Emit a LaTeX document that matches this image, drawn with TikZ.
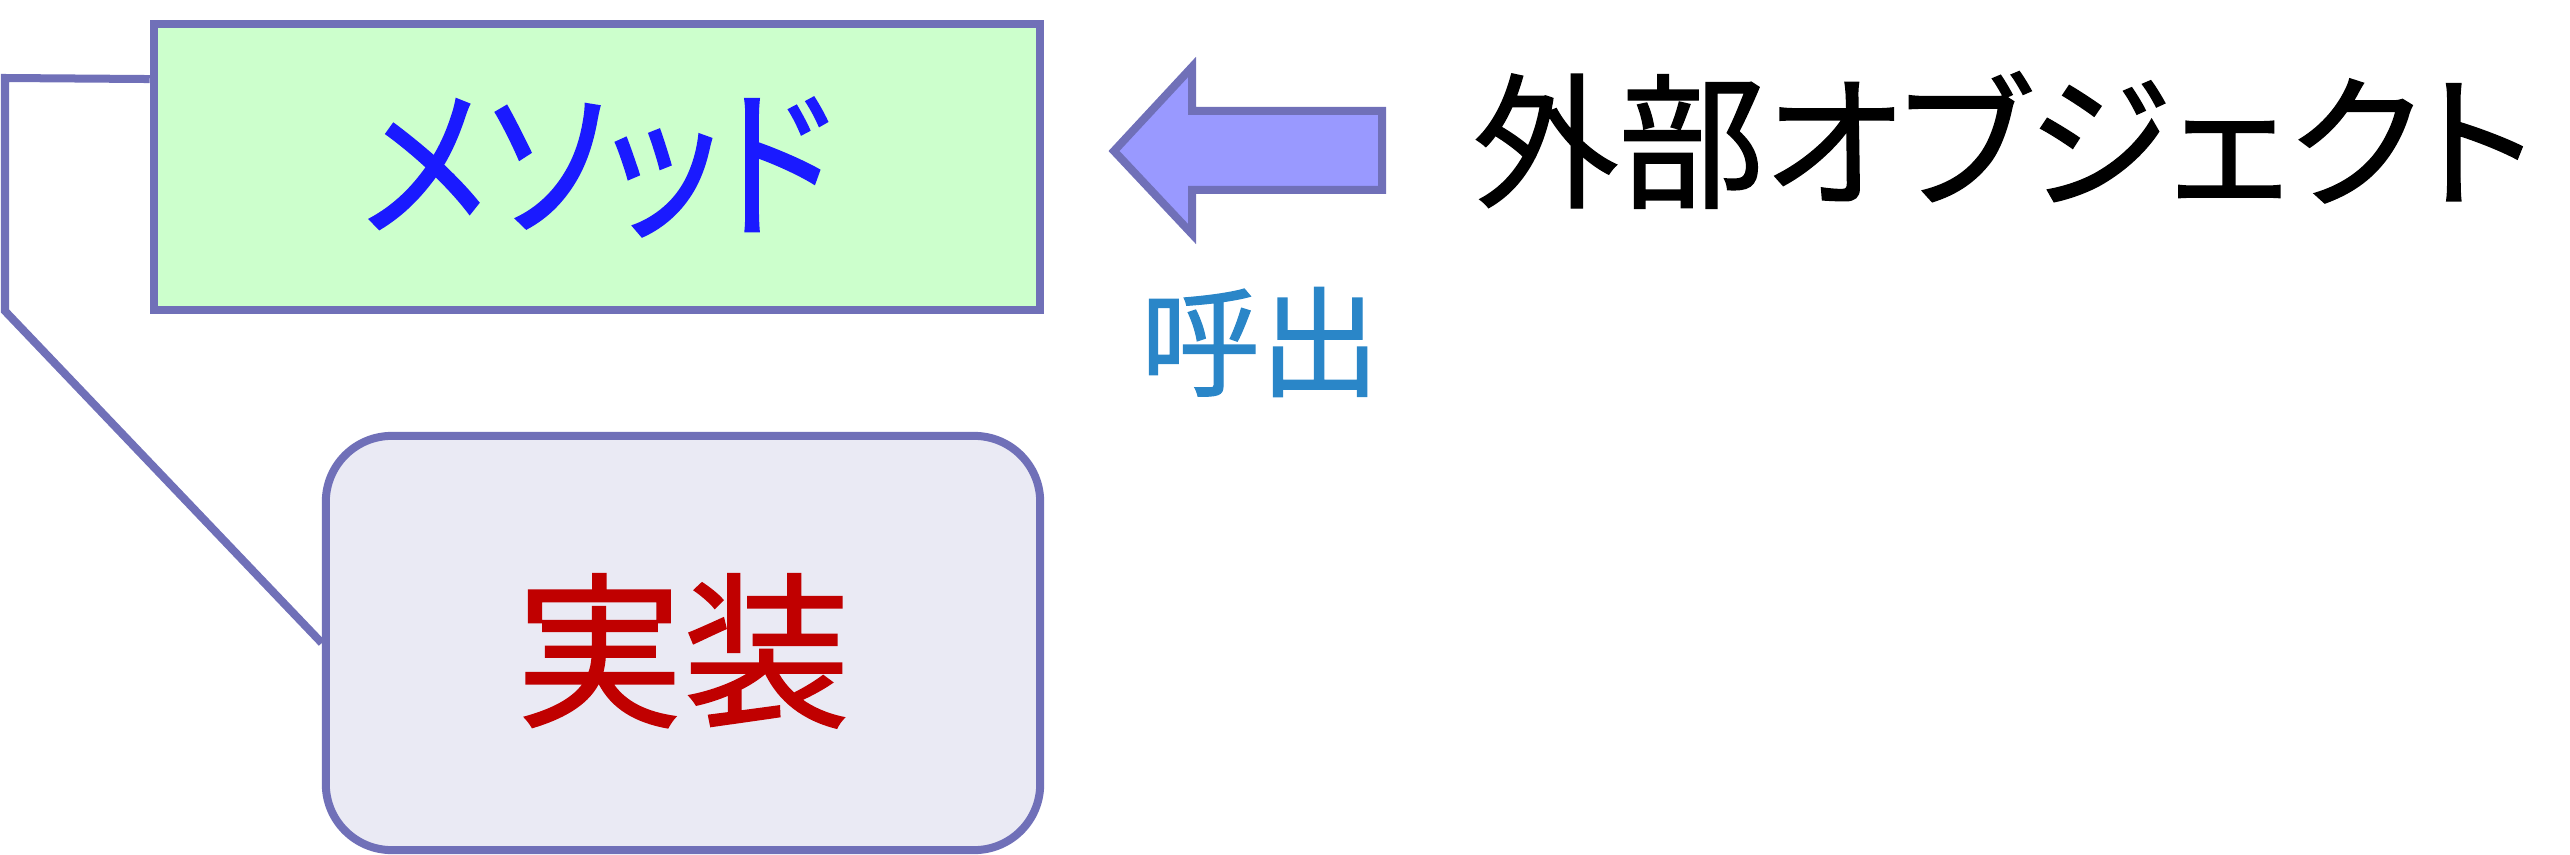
\documentclass[tikz,border=0pt]{standalone}
\usepackage{fontspec}
\newfontfamily\jpfont[RawFeature=+palt,FakeBold=1]{Noto Sans CJK JP}
\newfontfamily\jpnarrow[RawFeature=+palt,FakeBold=1,FakeStretch=0.87]{Noto Sans CJK JP}
\usetikzlibrary{positioning,calc}
\definecolor{boxline}{RGB}{112,112,184}
\definecolor{methodfill}{RGB}{204,255,204}
\definecolor{implfill}{RGB}{234,234,244}
\definecolor{arrowfill}{RGB}{153,153,255}
\definecolor{methodtext}{RGB}{26,26,255}
\definecolor{impltext}{RGB}{192,0,0}
\definecolor{calltext}{RGB}{42,134,200}

\begin{document}
\begin{tikzpicture}[
  x=0.01cm, y=-0.01cm,
  box options/.style = {draw=boxline,line width=0.08cm,inner sep=0pt},
  method box/.style = {box options,fill=methodfill,text=methodtext,
    minimum width=8.86cm,minimum height=2.85cm,
    font=\jpnarrow\fontsize{47}{47}\selectfont},
  impl box/.style = {box options,fill=implfill,text=impltext,rounded corners=0.66cm,
    minimum width=7.14cm,minimum height=4.14cm,text height=1.57cm,text depth=0.15cm,
    font=\jpfont\fontsize{47.5}{47.5}\selectfont},
  callout line/.style = {draw=boxline,line width=0.08cm},
  call arrow/.style = {draw=boxline,fill=arrowfill,line width=0.08cm},
  label options/.style = {inner sep=0pt},
  ]
  \useasboundingbox (0,0) rectangle (2570,855);
  \node[method box] (method) at (597,167) {メソッド};
  \node[impl box] (impl) at (683,643) {実装};
  % callout from the method box down to its implementation
  \coordinate (calltop) at (5,78);
  \coordinate (callbend) at (5,311);
  \draw[callout line] ($(method.north west)!0.2!(method.south west)$)
    -- (calltop) -- (callbend) -- (impl.west);
  % block arrow: the outside object calls the method
  \draw[call arrow] (1114,151) -- (1192,67) -- (1192,111) -- (1382,111)
    -- (1382,190) -- (1192,190) -- (1192,234) -- cycle;
  \node[label options,anchor=west,font=\jpfont\fontsize{41.5}{41.5}\selectfont]
    (extobj) at (1472,140) {外部オブジェクト};
  \node[label options,text=calltext,font=\jpfont\fontsize{34}{34}\selectfont]
    (call) at (1260,342) {呼出};
\end{tikzpicture}
\end{document}
